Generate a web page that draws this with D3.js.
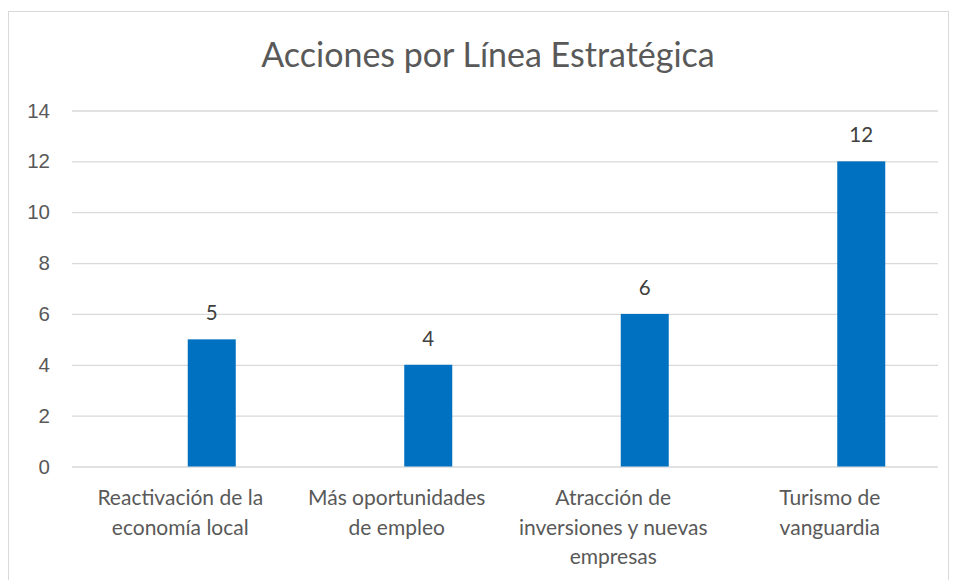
<!DOCTYPE html>
<html>
<head>
<meta charset="utf-8">
<script src="https://cdn.jsdelivr.net/npm/d3@7"></script>
<style>
  body { margin: 0; background: #fff; }
  svg { font-family: Lato, "Open Sans", sans-serif; }
  .tick text { fill: #595959; }
</style>
</head>
<body>
<svg width="955" height="580"></svg>
<script>
// datos del gráfico
var categorias = [
  ["Reactivación de la", "economía local"],
  ["Más oportunidades", "de empleo"],
  ["Atracción de", "inversiones y nuevas", "empresas"],
  ["Turismo de", "vanguardia"]
];
var acciones = [5, 4, 6, 12];
var ticksY = [0, 2, 4, 6, 8, 10, 12, 14];
var titulo = "Acciones por Línea Estratégica";

var svg = d3.select("svg");

// marco del gráfico
svg.append("rect")
  .attr("x", 8.5).attr("y", 11.5)
  .attr("width", 940).attr("height", 580)
  .attr("fill", "none")
  .attr("stroke", "#d9d9d9");

var margenIzq = 72, margenDer = 938, margenSup = 110.5, margenInf = 466.5;

var x = d3.scaleBand()
  .domain(d3.range(categorias.length))
  .range([margenIzq, margenDer])
  .paddingInner(0).paddingOuter(0);

var y = d3.scaleLinear().domain([0, 14]).range([margenInf, margenSup]);

// título
svg.append("text")
  .attr("x", 488).attr("y", 67)
  .attr("text-anchor", "middle")
  .attr("fill", "#595959")
  .style("font-size", "34px")
  .text(titulo);

// líneas de cuadrícula + etiquetas del eje Y
var ejeY = svg.append("g")
  .attr("transform", "translate(" + margenIzq + ",0)")
  .call(d3.axisLeft(y).tickValues(ticksY).tickSize(-(margenDer - margenIzq)).tickPadding(22));
ejeY.select(".domain").remove();
ejeY.selectAll(".tick line").attr("stroke", "#d9d9d9").attr("stroke-width", 1.3);
ejeY.selectAll(".tick text").style("font-size", "20.5px");

// barras (desplazadas a la derecha como en el original)
var anchoBarra = 48, desplaz = 31.5;
svg.selectAll("rect.bar")
  .data(acciones)
  .enter()
  .append("rect")
    .attr("class", "bar")
    .attr("x", function(d, i) { return x(i) + x.bandwidth() / 2 + desplaz - anchoBarra / 2; })
    .attr("y", function(d) { return y(d); })
    .attr("width", anchoBarra)
    .attr("height", function(d) { return y(0) - y(d); })
    .attr("fill", "#0070c0");

// etiquetas de valor
svg.selectAll("text.valor")
  .data(acciones)
  .enter()
  .append("text")
    .attr("class", "valor")
    .attr("x", function(d, i) { return x(i) + x.bandwidth() / 2 + desplaz; })
    .attr("y", function(d) { return y(d) - 19; })
    .attr("text-anchor", "middle")
    .attr("fill", "#404040")
    .style("font-size", "20.5px")
    .text(function(d) { return d; });

// etiquetas de categoría
var cat = svg.selectAll("text.cat")
  .data(categorias)
  .enter()
  .append("text")
    .attr("class", "cat")
    .attr("text-anchor", "middle")
    .attr("fill", "#595959")
    .style("font-size", "21px");
cat.selectAll("tspan")
  .data(function(d, i) { return d.map(function(t) { return { t: t, i: i }; }); })
  .enter()
  .append("tspan")
    .attr("x", function(d) { return x(d.i) + x.bandwidth() / 2; })
    .attr("y", function(d, j) { return 505 + j * 29.5; })
    .text(function(d) { return d.t; });
</script>
</body>
</html>
